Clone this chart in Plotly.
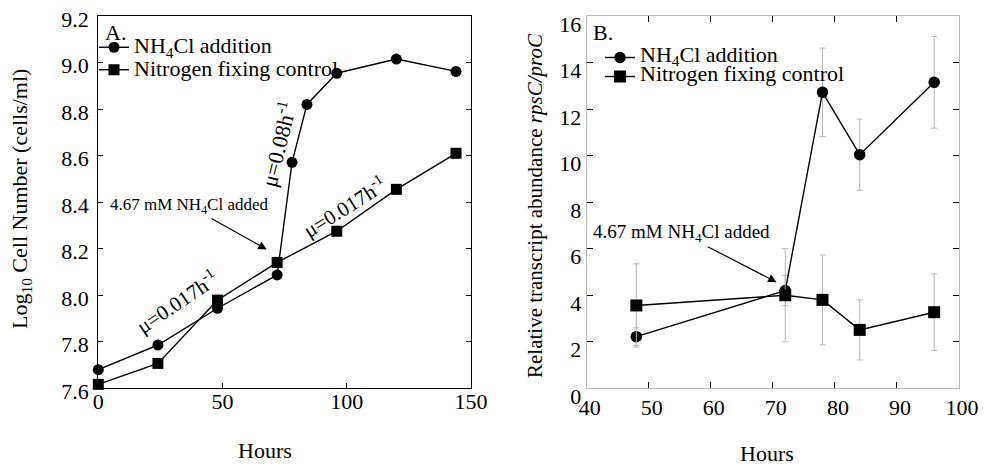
import plotly.graph_objects as go

# ---------------- data ----------------
# Panel A: growth curves
hours_a_nh4 = [0, 24, 48, 72, 78, 84, 96, 120, 144]
log_cells_nh4 = [7.68, 7.786, 7.944, 8.087, 8.571, 8.82, 8.954, 9.015, 8.962]
hours_a_ctrl = [0, 24, 48, 72, 96, 120, 144]
log_cells_ctrl = [7.617, 7.707, 7.979, 8.141, 8.275, 8.455, 8.61]

# Panel B: relative transcript abundance rpsC/proC
hours_b = [48, 72, 78, 84, 96]
rps_nh4 = [2.22, 4.2, 12.72, 10.04, 13.15]
rps_nh4_err = [0.38, 0.65, 1.9, 1.53, 1.97]
rps_ctrl = [3.56, 4.0, 3.8, 2.51, 3.27]
rps_ctrl_err = [1.79, 2.0, 1.93, 1.29, 1.65]

label_nh4 = "NH<sub>4</sub>Cl addition"
label_ctrl = "Nitrogen fixing control"

xticks_a = [0, 50, 100, 150]
yticks_a = [7.6, 7.8, 8.0, 8.2, 8.4, 8.6, 8.8, 9.0, 9.2]
xticks_b = [40, 50, 60, 70, 80, 90, 100]
yticks_b = [0, 2, 4, 6, 8, 10, 12, 14, 16]

FONT = "Liberation Serif"
W, H = 984, 466


def px_x(p):
    return p / W


def px_y(p):
    return 1 - p / H


def big(txt, size):
    return '<span style="font-size:%dpx">%s</span>' % (size, txt)


fig = go.Figure()

line_style = dict(color="black", width=1.4)

# Panel A traces
fig.add_trace(go.Scatter(
    x=hours_a_nh4, y=log_cells_nh4, name=big(label_nh4, 22), mode="lines+markers",
    line=line_style, marker=dict(symbol="circle", size=11, color="black"),
    xaxis="x", yaxis="y", legend="legend", cliponaxis=False))
fig.add_trace(go.Scatter(
    x=hours_a_ctrl, y=log_cells_ctrl, name=big(label_ctrl, 22), mode="lines+markers",
    line=line_style, marker=dict(symbol="square", size=11, color="black"),
    xaxis="x", yaxis="y", legend="legend", cliponaxis=False))

# Panel B traces
err_style = dict(type="data", thickness=1, width=3, color="#b5b5b5")
fig.add_trace(go.Scatter(
    x=hours_b, y=rps_nh4, name=big(label_nh4, 22), mode="lines+markers",
    error_y=dict(array=rps_nh4_err, **err_style),
    line=line_style, marker=dict(symbol="circle", size=11.5, color="black"),
    xaxis="x2", yaxis="y2", legend="legend2", cliponaxis=False))
fig.add_trace(go.Scatter(
    x=hours_b, y=rps_ctrl, name=big(label_ctrl, 22), mode="lines+markers",
    error_y=dict(array=rps_ctrl_err, **err_style),
    line=line_style, marker=dict(symbol="square", size=12, color="black"),
    xaxis="x2", yaxis="y2", legend="legend2", cliponaxis=False))

axis_common = dict(showgrid=False, zeroline=False, ticks="inside", automargin=False,
                   ticklabeloverflow="allow",
                   tickfont=dict(family=FONT, size=22, color="black"))

ydom = [px_y(388.3), px_y(16)]

fig.update_layout(
    width=W, height=H,
    margin=dict(l=0, r=0, t=0, b=0),
    paper_bgcolor="white", plot_bgcolor="white",
    font=dict(family=FONT, size=20, color="black"),
    xaxis=dict(domain=[px_x(98.3), px_x(470.9)], range=[0, 150],
               tickvals=xticks_a, ticklen=5, tickwidth=1.3, tickcolor="black",
               showline=True, linecolor="black", linewidth=1.3, mirror=True,
               anchor="y", ticklabelstandoff=-7, **axis_common),
    yaxis=dict(domain=ydom, range=[7.6, 9.2], tickvals=yticks_a,
               tickformat=".1f", ticklen=5, tickwidth=1.3, tickcolor="black",
               showline=True, linecolor="black", linewidth=1.3, mirror="ticks",
               anchor="x", ticklabelshift=3, ticklabelstandoff=4, **axis_common),
    xaxis2=dict(domain=[px_x(586.7), px_x(959)], range=[40, 100],
                tickvals=xticks_b, ticklen=6, tickwidth=1.3, tickcolor="black",
                showline=True, linecolor="#b8b8b8", linewidth=1, mirror="ticks",
                anchor="y2", ticklabelstandoff=-1, ticklabelshift=3, **axis_common),
    yaxis2=dict(domain=ydom, range=[0, 16], tickvals=yticks_b,
                ticklen=6, tickwidth=1.3, tickcolor="black",
                showline=True, linecolor="#b8b8b8", linewidth=1, mirror="ticks",
                anchor="x2", ticklabelshift=8, **axis_common),
    legend=dict(x=px_x(94), y=px_y(31), xanchor="left", yanchor="top",
                bgcolor="rgba(0,0,0,0)", borderwidth=0,
                font=dict(family=FONT, size=15, color="black")),
    legend2=dict(x=px_x(600), y=px_y(43), xanchor="left", yanchor="top",
                 bgcolor="rgba(0,0,0,0)", borderwidth=0,
                 font=dict(family=FONT, size=11, color="black")),
)

ann = []
# panel labels
ann.append(dict(text="A.", xref="paper", yref="paper", x=px_x(103), y=px_y(32),
                xanchor="left", yanchor="middle", showarrow=False,
                font=dict(size=22)))
ann.append(dict(text="B.", xref="paper", yref="paper", x=px_x(591), y=px_y(32),
                xanchor="left", yanchor="middle", showarrow=False,
                font=dict(size=22)))
# axis titles
ann.append(dict(text="Log<sub>10</sub> Cell Number (cells/ml)", xref="paper", yref="paper",
                x=px_x(21), y=px_y(199), textangle=-90, showarrow=False,
                xanchor="center", yanchor="middle", font=dict(size=22)))
ann.append(dict(text="Relative transcript abundance <i>rpsC/proC</i>", xref="paper", yref="paper",
                x=px_x(535), y=px_y(206), textangle=-90, showarrow=False,
                xanchor="center", yanchor="middle", font=dict(size=21)))
ann.append(dict(text="Hours", xref="paper", yref="paper", x=px_x(265), y=px_y(450),
                showarrow=False, xanchor="center", yanchor="middle", font=dict(size=22)))
ann.append(dict(text="Hours", xref="paper", yref="paper", x=px_x(767), y=px_y(453),
                showarrow=False, xanchor="center", yanchor="middle", font=dict(size=22)))
# panel A growth-rate labels
ann.append(dict(text="μ=0.08h<sup>-1</sup>", xref="x", yref="y", x=72.1, y=8.65,
                textangle=-76, showarrow=False, font=dict(size=22)))
ann.append(dict(text="μ=0.017h<sup>-1</sup>", xref="x", yref="y", x=31.6, y=7.975,
                textangle=-34, showarrow=False, font=dict(size=21)))
ann.append(dict(text="μ=0.017h<sup>-1</sup>", xref="x", yref="y", x=99.2, y=8.38,
                textangle=-32, showarrow=False, font=dict(size=21)))
# NH4Cl added labels with arrows (text placed at the arrow tail)
ann.append(dict(text="4.67 mM NH<sub>4</sub>Cl added", xref="x", yref="y",
                x=67.8, y=8.197, ax=189 - 266.7, ay=206 - 249.3,
                showarrow=True, arrowhead=2, arrowsize=1.4, arrowwidth=1.2,
                arrowcolor="black", standoff=0, font=dict(size=17)))
ann.append(dict(text="4.67 mM NH<sub>4</sub>Cl added", xref="x2", yref="y2",
                x=70.6, y=4.56, ax=682 - 777, ay=233 - 282,
                showarrow=True, arrowhead=2, arrowsize=1.4, arrowwidth=1.2,
                arrowcolor="black", standoff=0, font=dict(size=19)))
fig.update_layout(annotations=ann)

fig.write_html("out.html")
